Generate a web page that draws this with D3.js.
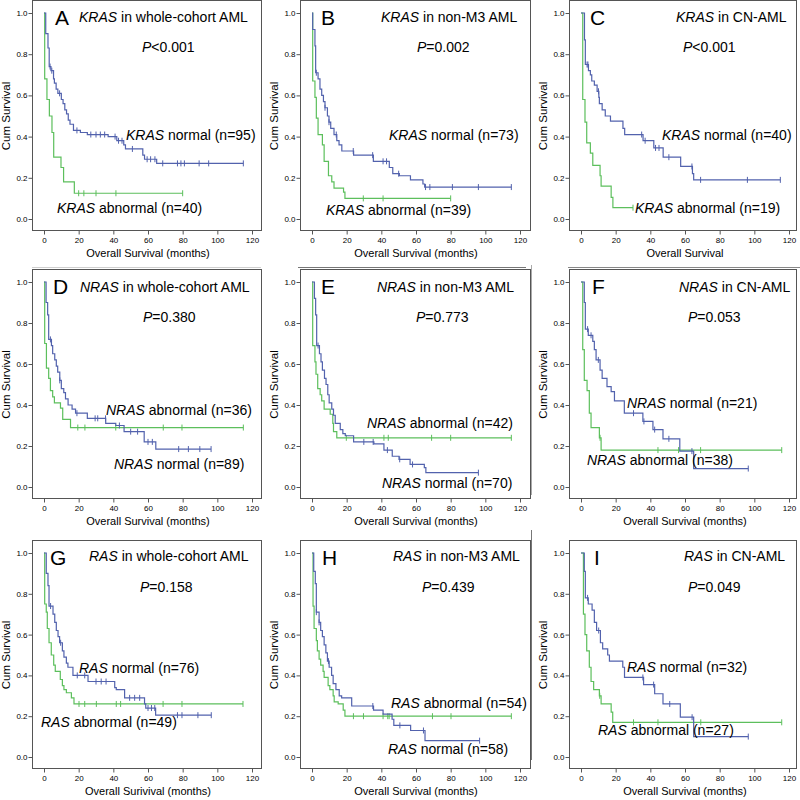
<!DOCTYPE html>
<html><head><meta charset="utf-8">
<script src="https://cdn.jsdelivr.net/npm/d3@7"></script>
<style>body{margin:0;background:#fff} svg{display:block} text{font-family:"Liberation Sans",Arial,sans-serif;fill:#000}</style>
</head><body><svg id="c" width="800" height="800"></svg>
<script>
const xTicks=[0,20,40,60,80,100,120];
const yTicks=[0,0.2,0.4,0.6,0.8,1.0];
const panelLetters=["A","B","C","D","E","F","G","H","I"];
const genes=["KRAS","KRAS","KRAS","NRAS","NRAS","NRAS","RAS","RAS","RAS"];
const cohorts=[" in whole-cohort AML"," in non-M3 AML"," in CN-AML"," in whole-cohort AML"," in non-M3 AML"," in CN-AML"," in whole-cohort AML"," in non-M3 AML"," in CN-AML"];
const pValues=["<0.001","=0.002","<0.001","=0.380","=0.773","=0.053","=0.158","=0.439","=0.049"];
const normalN=[95,73,40,89,70,21,76,58,32];
const abnormalN=[40,39,19,36,42,38,49,54,27];
const xTitles=["Overall Survival (months)","Overall Survival (months)","Overall Survival","Overall Survival (months)","Overall Survival (months)","Overall Survival (months)","Overall Surivival (months)","Overall Survival (months)","Overall Survival (months)"];

// A
const aNormT=[1,2.3,3,4,5.5,6,7,8,10,11,12,13,14,15,17,21,25,37,42,46,47,57,58,65];
const aNormS=[0.90,0.83,0.74,0.72,0.68,0.66,0.63,0.61,0.58,0.56,0.53,0.51,0.48,0.46,0.43,0.42,0.41,0.40,0.38,0.36,0.34,0.31,0.29,0.27];
const aNormC=[3.5,4.5,9,19,27,30,32.5,35,41,43,45,51,59.5,61.5,64,68.5,77,79,81,89.5,95,115];
const aAbnT=[0.4,1.7,3.1,4.6,5.6,9.8,11.3,17.5];
const aAbnS=[0.68,0.58,0.50,0.42,0.30,0.25,0.18,0.125];
const aAbnC=[20,23,30,41.5,80];
// B
const bNormT=[0.4,1.7,2.1,3.5,4.6,5.6,6.6,7.5,8.9,9.8,10.8,12.7,14.3,15.6,17.2,24,35.4,44.6,46.6,50.4,56.8,64,65];
const bNormS=[0.92,0.84,0.71,0.68,0.63,0.60,0.57,0.54,0.50,0.47,0.44,0.41,0.38,0.36,0.33,0.31,0.28,0.25,0.22,0.21,0.19,0.17,0.155];
const bNormC=[2.5,7.5,9.8,14,23.8,35,41,43,50,65.5,68,81,96,115];
const bAbnT=[0.4,1.7,2.5,3.5,6,7,9.5,11.4,12.7,18.2,19];
const bAbnS=[0.67,0.59,0.49,0.41,0.36,0.28,0.21,0.18,0.15,0.13,0.10];
const bAbnC=[29.6,41,80];
// C
const cNormT=[2,2.5,4.3,5.4,6.2,7.7,9.3,10.3,10.6,12.2,14,17,24.2,25.2,35.8,42,47.4,57.5,64.3,65];
const cNormS=[0.87,0.75,0.72,0.70,0.67,0.65,0.62,0.59,0.56,0.53,0.50,0.475,0.44,0.41,0.38,0.345,0.30,0.255,0.22,0.19];
const cNormC=[3.5,4,10.1,35,37,43,45,50.7,64,69,96,115];
const cAbnT=[1,2.3,3.3,5.4,6.8,11,11.6,17.4,18.4];
const cAbnS=[0.58,0.47,0.37,0.32,0.26,0.21,0.16,0.105,0.055];
const cAbnC=[30];
// D
const dNormT=[1.2,2.1,2.7,4.3,5,6.2,7.1,7.9,9.1,10,11.4,12.4,13.9,16.2,18.2,25,35.6,41.4,46.2,57.8,64.5];
const dNormS=[0.90,0.84,0.72,0.69,0.65,0.62,0.59,0.56,0.52,0.48,0.46,0.43,0.40,0.38,0.36,0.335,0.31,0.30,0.27,0.22,0.185];
const dNormC=[3.7,9.1,19,29.5,31,35.5,43.5,50,54,60,62.5,77.7,83.3,89.9,96.4];
const dAbnT=[0.4,1.4,2.7,3.7,5,6,9.5,10.8,15.3];
const dAbnS=[0.70,0.58,0.53,0.47,0.44,0.41,0.385,0.33,0.29];
const dAbnC=[19.5,23.6,41.4,68.8,79.6,115];
// E
const eNormT=[1.4,2.1,2.7,4.3,5.2,6,7.2,8.1,9.1,9.9,11.4,12.4,13.4,16.3,17.8,19.2,24,35.7,41.5,46.3,50.2,56.6,64.8,65.7];
const eNormS=[0.92,0.84,0.69,0.65,0.61,0.57,0.53,0.50,0.45,0.41,0.38,0.35,0.31,0.28,0.26,0.25,0.22,0.21,0.18,0.15,0.135,0.11,0.095,0.07];
const eNormC=[3.5,29.9,35.3,43.5,50.6,58,96];
const eAbnT=[0.4,1.7,2.3,3.3,4.7,5.6,7,10.5,12,12.4,14.3];
const eAbnS=[0.69,0.61,0.55,0.48,0.45,0.42,0.38,0.355,0.31,0.27,0.24];
const eAbnC=[19.8,41.5,44,69,80,115];
// F
const fNormT=[1.9,2.5,4.2,6.8,7.7,8.7,11,12.2,15,17.4,19.3,25,35.7,41.5,47.3,57,65];
const fNormS=[0.90,0.77,0.74,0.71,0.67,0.62,0.57,0.53,0.49,0.465,0.42,0.36,0.32,0.28,0.235,0.175,0.09];
const fNormC=[3.8,5.8,10,30.3,36.3,42.5,50.7,64,96.5];
const fAbnT=[1,1.9,3.5,4.8,5.8,10.6,11.6];
const fAbnS=[0.67,0.52,0.47,0.36,0.29,0.24,0.18];
const fAbnC=[11,44.4,56.3,69,115.8];
// G
const gNormT=[1.3,2.3,2.9,5.2,6.2,7.1,8.1,9,10.6,11.5,12.9,13.8,16.7,25.4,40.8,41.7,46.5,58,58.7,64.4];
const gNormS=[0.90,0.84,0.74,0.70,0.66,0.62,0.59,0.56,0.52,0.49,0.46,0.44,0.40,0.37,0.34,0.33,0.29,0.26,0.24,0.205];
const gNormC=[3.8,9.6,19.2,23.5,30,33,35.8,49.4,52.3,55.2,60,62,63.9,77,79.6,88.8,96.5];
const gAbnT=[0.4,1.3,1.9,2.9,4.2,5.6,6.5,9.4,10.6,11.5,12.9,15.8,17.3];
const gAbnS=[0.75,0.71,0.63,0.56,0.50,0.45,0.42,0.38,0.35,0.33,0.315,0.29,0.26];
const gAbnC=[20.2,23.5,30.2,41.7,44.2,68.7,79.6,114.8];
// H
const hNormT=[1,1.9,2.5,4.1,5,6,7,8,8.9,9.9,11.3,12.2,13.8,15.7,17.1,22.9,35.5,41,46.2,47.2,56.9,65.2];
const hNormS=[0.91,0.85,0.71,0.66,0.62,0.59,0.55,0.51,0.47,0.44,0.40,0.36,0.33,0.30,0.29,0.25,0.23,0.21,0.185,0.155,0.13,0.08];
const hNormC=[2.5,4.1,9.5,35.1,50.7,64.3,96.7];
const hAbnT=[0.6,1.2,2.5,3.1,4.1,5,6.4,7,9.3,10.3,12.2,12.8,15.1,18,19];
const hAbnS=[0.74,0.63,0.57,0.52,0.48,0.45,0.42,0.39,0.35,0.33,0.30,0.27,0.26,0.23,0.20];
const hAbnC=[23.9,29.7,41,43.7,44.5,69.5,80.2,115];
// I
const iNormT=[1.9,2.5,4.2,6.4,7.7,9,11.2,12.5,15.4,16.4,24.1,25.1,36.1,42.5,47.3,57.3,65];
const iNormS=[0.91,0.78,0.75,0.72,0.66,0.62,0.56,0.53,0.50,0.47,0.44,0.39,0.355,0.31,0.26,0.195,0.10];
const iNormC=[3.8,10.2,35.7,41.9,51.2,64.1,96.5];
const iAbnT=[1.4,2.3,3.3,4.8,5.8,7.3,10.6,11.6,17.4,18.3];
const iAbnS=[0.70,0.60,0.52,0.44,0.37,0.33,0.30,0.26,0.22,0.17];
const iAbnC=[10.8,30.3,44.4,69.1,115.8];

const normT=[aNormT,bNormT,cNormT,dNormT,eNormT,fNormT,gNormT,hNormT,iNormT];
const normS=[aNormS,bNormS,cNormS,dNormS,eNormS,fNormS,gNormS,hNormS,iNormS];
const normC=[aNormC,bNormC,cNormC,dNormC,eNormC,fNormC,gNormC,hNormC,iNormC];
const abnT=[aAbnT,bAbnT,cAbnT,dAbnT,eAbnT,fAbnT,gAbnT,hAbnT,iAbnT];
const abnS=[aAbnS,bAbnS,cAbnS,dAbnS,eAbnS,fAbnS,gAbnS,hAbnS,iAbnS];
const abnC=[aAbnC,bAbnC,cAbnC,dAbnC,eAbnC,fAbnC,gAbnC,hAbnC,iAbnC];

// layout (pixels)
const colLeft=[32,300,569], colRight=[261,530,796];
const rowTop=[0,269,540], rowBottom=[230,498,768];
const letterPos=[[55,25],[321,25],[590,25],[53,294],[321,294],[592,294],[50,565],[322,565],[594,565]];
const titlePos=[[79,22],[381,22],[676,22],[80,292],[377,292],[679,292],[89,561],[393,561],[684,561]];
const pPos=[[142,52],[417,52],[683,52],[143,322],[416,322],[688,322],[140,592],[422,592],[688,592]];
const normLabPos=[[126,140],[389,140],[662,140],[114,469],[382,488],[627,408],[79,673],[388,754],[627,672]];
const abnLabPos=[[57,213],[326,215],[635,213],[106,415],[367,428],[587,465],[41,727],[391,708],[598,735]];

const BLUE="#5262ad", GREEN="#5cbf5c";
const svg=d3.select("#c");

// faint outer chart borders seen in the source figure
const borderLines=[[32,267.5,261,267.5,"#cfcfcf"],[298,267.5,526,267.5,"#777"],[568,267.5,800,267.5,"#888"],
  [531.5,265,531.5,495,"#aaa"],[531.5,530,531.5,760,"#777"]];
svg.selectAll("line.border").data(borderLines).enter().append("line").attr("class","border")
  .attr("x1",d=>d[0]).attr("y1",d=>d[1]).attr("x2",d=>d[2]).attr("y2",d=>d[3]).attr("stroke",d=>d[4]).attr("stroke-width",1);

function steps(T,S,C){
  const end=Math.max(d3.max(C)||0,d3.max(T));
  const pts=[[0,1]];
  T.forEach((t,i)=>pts.push([t,S[i]]));
  pts.push([end,S[S.length-1]]);
  return pts;
}
function survAt(T,S,c){
  let s=1;
  T.forEach((t,i)=>{ if(t<=c) s=S[i]; });
  return s;
}

for(let k=0;k<9;k++){
  const col=k%3,row=Math.floor(k/3);
  const L=colLeft[col],R=colRight[col],Tp=rowTop[row],B=rowBottom[row];
  const x=d3.scaleLinear().domain([0,120]).range([L+12,L+220]);
  const y=d3.scaleLinear().domain([0,1]).range([B-11,Tp+13]);
  const g=svg.append("g");
  g.append("rect").attr("x",L+0.5).attr("y",Tp+0.5).attr("width",R-L).attr("height",B-Tp)
    .attr("fill","none").attr("stroke","#555").attr("stroke-width",1);
  const xa=g.append("g").attr("transform",`translate(0,${B+0.5})`)
    .call(d3.axisBottom(x).tickValues(xTicks).tickSize(4).tickSizeOuter(0).tickFormat(d3.format("d")));
  const ya=g.append("g").attr("transform",`translate(${L+0.5},0)`)
    .call(d3.axisLeft(y).tickValues(yTicks).tickSize(4).tickSizeOuter(0).tickFormat(d3.format(".1f")));
  [xa,ya].forEach(a=>{
    a.select(".domain").remove();
    a.selectAll("line").attr("stroke","#555");
    a.selectAll("text").attr("font-size",8).attr("fill","#222")
     .style("font-family",'"Liberation Sans",Arial,sans-serif');
  });
  xa.selectAll("text").attr("dy","0.75em").attr("y",6);
  ya.selectAll("text").attr("x",-5);
  g.append("text").attr("x",(x(0)+x(120))/2).attr("y",B+27).attr("text-anchor","middle")
    .attr("font-size",11).text(xTitles[k]);
  g.append("text").attr("transform",`translate(${L-22},${(y(0)+y(1))/2}) rotate(-90)`)
    .attr("text-anchor","middle").attr("font-size",11.5).text("Cum Survival");

  const line=d3.line().x(d=>x(d[0])).y(d=>y(d[1])).curve(d3.curveStepAfter);
  const curves=[[abnT[k],abnS[k],abnC[k],GREEN],[normT[k],normS[k],normC[k],BLUE]];
  curves.forEach(([T,S,C,col])=>{
    g.append("path").attr("d",line(steps(T,S,C))).attr("fill","none").attr("stroke",col).attr("stroke-width",1.2);
    g.selectAll(null).data(C).enter().append("line")
      .attr("x1",d=>x(d)).attr("x2",d=>x(d))
      .attr("y1",d=>y(survAt(T,S,d))-3).attr("y2",d=>y(survAt(T,S,d))+3)
      .attr("stroke",col).attr("stroke-width",1);
  });

  g.append("text").attr("x",letterPos[k][0]).attr("y",letterPos[k][1]).attr("font-size",21).text(panelLetters[k]);
  const t=g.append("text").attr("x",titlePos[k][0]).attr("y",titlePos[k][1]).attr("font-size",14);
  t.append("tspan").attr("font-style","italic").text(genes[k]);
  t.append("tspan").text(cohorts[k]);
  const p=g.append("text").attr("x",pPos[k][0]).attr("y",pPos[k][1]).attr("font-size",14);
  p.append("tspan").attr("font-style","italic").text("P");
  p.append("tspan").text(pValues[k]);
  const nl=g.append("text").attr("x",normLabPos[k][0]).attr("y",normLabPos[k][1]).attr("font-size",14);
  nl.append("tspan").attr("font-style","italic").text(genes[k]);
  nl.append("tspan").text(` normal (n=${normalN[k]})`);
  const al=g.append("text").attr("x",abnLabPos[k][0]).attr("y",abnLabPos[k][1]).attr("font-size",14);
  al.append("tspan").attr("font-style","italic").text(genes[k]);
  al.append("tspan").text(` abnormal (n=${abnormalN[k]})`);
}
</script></body></html>
